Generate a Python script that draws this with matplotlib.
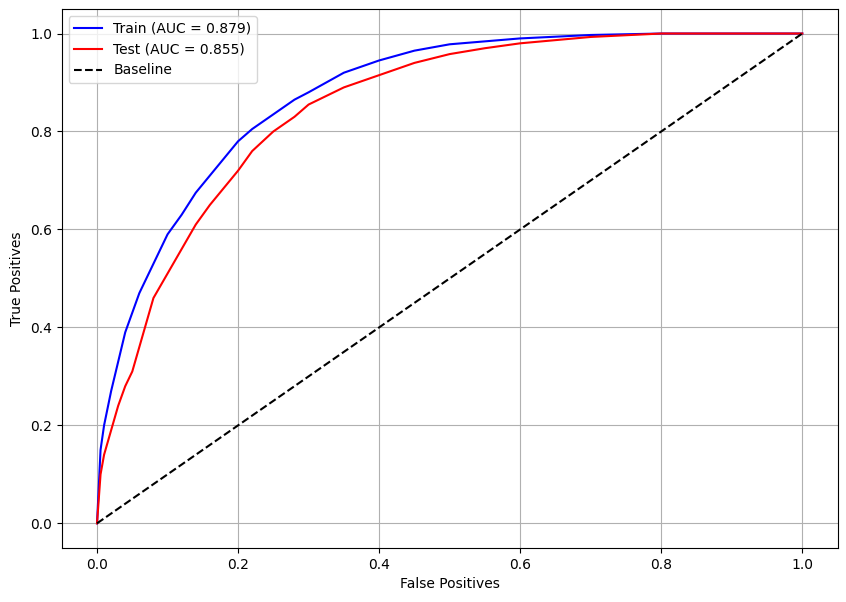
import matplotlib
matplotlib.use("Agg")
import matplotlib.pyplot as plt

train_fpr = [0, 0.005, 0.01, 0.02, 0.03, 0.04, 0.05, 0.06, 0.08, 0.1, 0.12, 0.14, 0.16, 0.18, 0.2, 0.22, 0.25, 0.28, 0.3, 0.35, 0.4, 0.45, 0.5, 0.6, 0.7, 0.8, 1.0]
train_tpr = [0, 0.15, 0.2, 0.27, 0.33, 0.39, 0.43, 0.47, 0.53, 0.59, 0.63, 0.675, 0.71, 0.745, 0.78, 0.805, 0.835, 0.865, 0.88, 0.92, 0.945, 0.965, 0.978, 0.99, 0.997, 1.0, 1.0]
test_fpr = [0, 0.005, 0.01, 0.02, 0.03, 0.04, 0.05, 0.06, 0.07, 0.08, 0.1, 0.12, 0.14, 0.16, 0.18, 0.2, 0.22, 0.25, 0.28, 0.3, 0.35, 0.4, 0.45, 0.5, 0.55, 0.6, 0.7, 0.8, 1.0]
test_tpr = [0, 0.1, 0.14, 0.19, 0.24, 0.28, 0.31, 0.36, 0.41, 0.46, 0.51, 0.56, 0.61, 0.65, 0.685, 0.72, 0.76, 0.8, 0.83, 0.855, 0.89, 0.915, 0.94, 0.958, 0.97, 0.98, 0.993, 1.0, 1.0]
train_auc = 0.879
test_auc = 0.855

fig, ax = plt.subplots(figsize=(8.46, 6.02), dpi=100)
fig.subplots_adjust(left=0.073, right=0.99, top=0.985, bottom=0.09)
ax.plot(train_fpr, train_tpr, color="blue", label=f"Train (AUC = {train_auc:.3f})")
ax.plot(test_fpr, test_tpr, color="red", label=f"Test (AUC = {test_auc:.3f})")
ax.plot([0, 1], [0, 1], "k--", label="Baseline")
ax.set_xlabel("False Positives")
ax.set_ylabel("True Positives")
ax.grid(True)
ax.legend(loc="upper left")
fig.savefig("out.png")
